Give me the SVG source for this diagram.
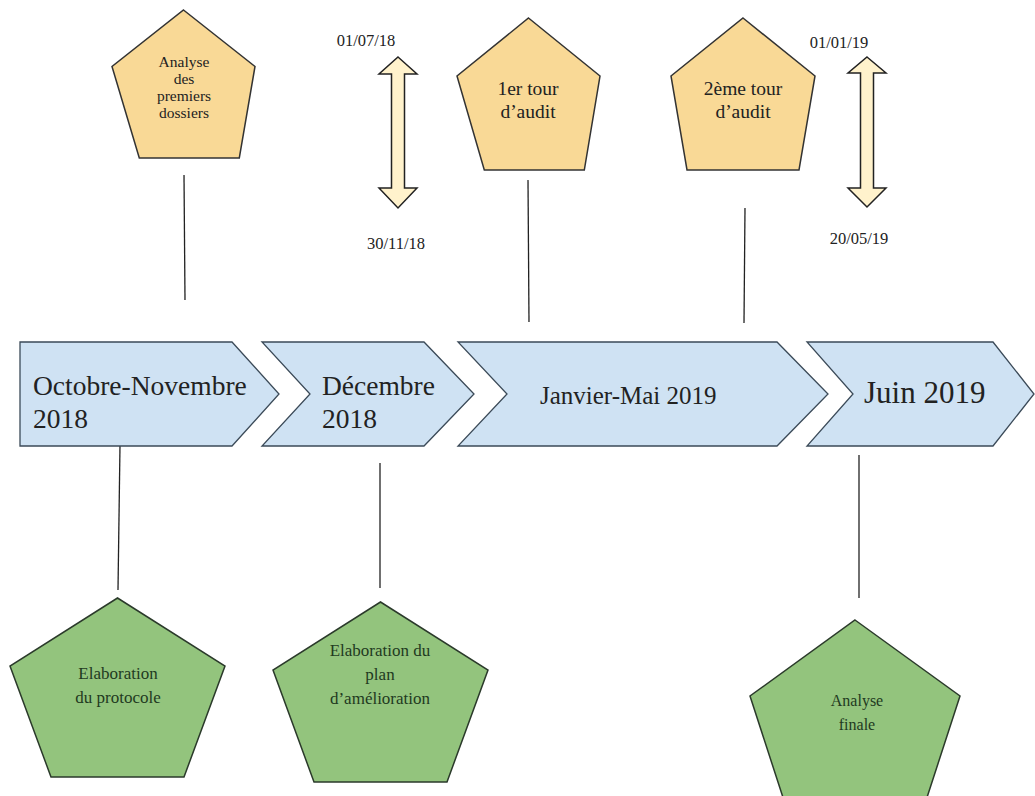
<svg xmlns="http://www.w3.org/2000/svg" width="1035" height="796" viewBox="0 0 1035 796">
<style>
text{font-family:"Liberation Serif","Times New Roman",serif;fill:#222;text-anchor:middle}
.yel{fill:#F9D996;stroke:#333;stroke-width:1.5}
.grn{fill:#93C47D;stroke:#2b3a2b;stroke-width:1.5}
.chev{fill:#CFE2F3;stroke:#3b4a58;stroke-width:1.3}
.arr{fill:#FFF2CC;stroke:#222;stroke-width:1.5}
.conn line{stroke:#222;stroke-width:1.3}
.gt{fill:#1f3a1f}
.ct{text-anchor:start;fill:#222}
</style>
<rect width="1035" height="796" fill="#fff"/>

<g class="conn" id="connectors">
<line x1="184" y1="175" x2="185" y2="300"/>
<line x1="528" y1="180" x2="529" y2="322"/>
<line x1="745" y1="208" x2="744" y2="323"/>
<line x1="120" y1="445" x2="118" y2="590"/>
<line x1="380" y1="463" x2="380" y2="588"/>
<line x1="859" y1="455" x2="859" y2="598"/>
</g>

<g id="chevron-oct-nov">
<polygon class="chev" points="20,342 232,342 279,394 232,446 20,446"/>
<text class="ct" x="33" y="395" font-size="27.5">Octobre-Novembre</text>
<text class="ct" x="33" y="428" font-size="27.5">2018</text>
</g>
<g id="chevron-dec">
<polygon class="chev" points="262,342 424,342 474,394 424,446 262,446 310,394"/>
<text class="ct" x="322" y="395" font-size="27.5">Décembre</text>
<text class="ct" x="322" y="428" font-size="27.5">2018</text>
</g>
<g id="chevron-jan-mai">
<polygon class="chev" points="458,342 777,342 828,394 777,446 458,446 507,394"/>
<text class="ct" x="540" y="404" font-size="25">Janvier-Mai 2019</text>
</g>
<g id="chevron-juin">
<polygon class="chev" points="807,342 993,342 1034,394 993,446 807,446 853,394"/>
<text class="ct" x="864" y="403" font-size="31">Juin 2019</text>
</g>

<g id="analyse-premiers">
<polygon class="yel" points="183.5,10 255,66.5 239.3,158 139.3,158 112,66.5"/>
<text x="184" y="67" font-size="15.5">Analyse</text>
<text x="184" y="84" font-size="15.5">des</text>
<text x="184" y="101" font-size="15.5">premiers</text>
<text x="184" y="118" font-size="15.5">dossiers</text>
</g>

<g id="tour1">
<polygon class="yel" points="528.5,18 600,76 584.3,170 484.3,170 457,76"/>
<text x="528" y="95" font-size="19.5">1er tour</text>
<text x="528" y="118" font-size="19.5">d’audit</text>
</g>

<g id="tour2">
<polygon class="yel" points="743,18 815,76 799,170 687,170 671,76"/>
<text x="743" y="95" font-size="19.5">2ème tour</text>
<text x="743" y="118" font-size="19.5">d’audit</text>
</g>

<g id="periode1">
<polygon class="arr" points="398,57 417,74 404.5,74 404.5,188 417,188 398,208 379,188 391.5,188 391.5,74 379,74"/>
<text x="366" y="46" font-size="16.5">01/07/18</text>
<text x="396" y="249" font-size="16.5">30/11/18</text>
</g>

<g id="periode2">
<polygon class="arr" points="867,57 886,73 873.5,73 873.5,188 886,188 867,207 848,188 860.5,188 860.5,73 848,73"/>
<text x="839" y="48" font-size="16.5">01/01/19</text>
<text x="859" y="244" font-size="16.5">20/05/19</text>
</g>

<g id="elaboration-protocole">
<polygon class="grn" points="117.5,598 225,666 184,777 51,777 10,666"/>
<text class="gt" x="118" y="679" font-size="17">Elaboration</text>
<text class="gt" x="118" y="703" font-size="17">du protocole</text>
</g>

<g id="elaboration-plan">
<polygon class="grn" points="380.5,602 488,670 447,782 314,782 273,670"/>
<text class="gt" x="380" y="656" font-size="17">Elaboration du</text>
<text class="gt" x="380" y="680" font-size="17">plan</text>
<text class="gt" x="380" y="704" font-size="17">d’amélioration</text>
</g>

<g id="analyse-finale">
<polygon class="grn" points="855,620 960,696 920,819 790,819 750,696"/>
<text class="gt" x="857" y="706" font-size="16">Analyse</text>
<text class="gt" x="857" y="730" font-size="16">finale</text>
</g>
</svg>
